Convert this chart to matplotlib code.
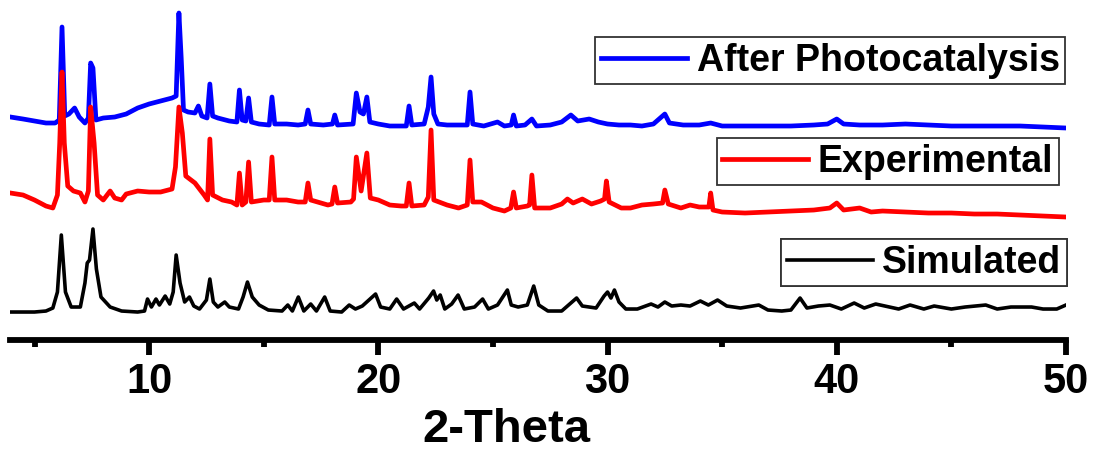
import matplotlib
matplotlib.use("Agg")
import matplotlib.pyplot as plt
from matplotlib.ticker import MultipleLocator

plt.rcParams['font.family'] = ['Liberation Sans', 'DejaVu Sans']
plt.rcParams['font.weight'] = 'bold'

# 2-theta and intensity (a.u.), each curve above its own baseline
blue_x = [3.95, 4.5, 5.0, 5.5, 5.9, 6.08, 6.2, 6.32, 6.5, 6.75, 6.95, 7.2, 7.35, 7.45, 7.55, 7.68,
          8.0, 8.5, 9.0, 9.5, 10.0, 10.5, 11.0, 11.18, 11.3, 11.4, 11.5, 11.7, 12.0, 12.15, 12.3,
          12.53, 12.65, 12.77, 13.0, 13.5, 13.83, 13.94, 14.06, 14.22, 14.34, 14.46, 14.8, 15.24,
          15.36, 15.48, 16.0, 16.5, 16.81, 16.93, 17.05, 17.6, 18.0, 18.1, 18.22, 18.9, 19.04,
          19.2, 19.35, 19.5, 19.63, 20.0, 20.5, 21.22, 21.34, 21.46, 22.0, 22.18, 22.3, 22.42,
          22.6, 23.0, 23.88, 24.0, 24.12, 24.6, 25.2, 25.5, 25.8, 25.9, 26.02, 26.4, 26.7, 26.9,
          27.5, 28.0, 28.4, 28.7, 29.2, 29.6, 30.0, 30.5, 31.0, 31.5, 32.0, 32.5, 32.7, 33.3,
          34.0, 34.5, 35.0, 36.0, 37.0, 38.0, 39.0, 39.6, 40.0, 40.3, 41.0, 42.0, 43.0, 44.0,
          45.0, 46.0, 47.0, 48.0, 49.0, 50.0]
blue_y = [11, 9, 7, 5, 5, 8, 101, 12, 14, 20, 11, 5, 10, 65, 60, 8,
          10, 11, 14, 20, 24, 27, 30, 32, 115, 70, 18, 16, 15, 22, 12,
          10, 44, 12, 10, 7, 6, 38, 8, 7, 30, 6, 4, 3,
          31, 4, 4, 3, 4, 18, 4, 3, 4, 13, 3, 4, 35,
          16, 14, 31, 6, 4, 2, 2, 22, 3, 4, 21, 51, 14,
          4, 3, 3, 36, 4, 2, 6, 2, 3, 13, 2, 3, 9, 2,
          3, 6, 13, 7, 9, 6, 4, 3, 3, 2, 4, 14, 5, 3,
          3, 5, 2, 2, 2, 2, 3, 4, 9, 4, 3, 3, 4, 3,
          2, 2, 2, 2, 1, 0]

red_x = [3.95, 4.5, 5.0, 5.5, 5.8, 6.0, 6.1, 6.2, 6.3, 6.45, 6.7, 7.0, 7.2, 7.35, 7.45, 7.6,
         7.75, 8.0, 8.3, 8.5, 8.8, 9.0, 9.5, 10.0, 10.5, 11.0, 11.15, 11.3, 11.45, 11.6, 12.0,
         12.4, 12.55, 12.65, 12.77, 13.2, 13.6, 13.83, 13.94, 14.06, 14.22, 14.34, 14.46, 15.0,
         15.24, 15.36, 15.48, 16.0, 16.5, 16.81, 16.93, 17.05, 17.8, 17.98, 18.1, 18.22, 18.8,
         18.92, 19.04, 19.25, 19.5, 19.65, 20.0, 20.5, 21.0, 21.22, 21.34, 21.46, 22.0, 22.18,
         22.3, 22.42, 23.0, 23.5, 23.88, 24.0, 24.12, 24.5, 25.0, 25.5, 25.78, 25.9, 26.02,
         26.5, 26.6, 26.7, 26.82, 27.5, 28.0, 28.25, 28.5, 28.9, 29.3, 29.7, 29.87, 29.95,
         30.07, 30.6, 31.0, 31.5, 32.0, 32.4, 32.5, 32.65, 33.2, 33.6, 34.0, 34.42, 34.5, 34.6,
         35.0, 36.0, 37.0, 38.0, 39.0, 39.7, 40.0, 40.3, 41.0, 41.5, 42.0, 43.0, 44.0, 45.0,
         46.0, 47.0, 48.0, 49.0, 50.0]
red_y = [24, 22, 17, 11, 9, 22, 74, 145, 74, 31, 26, 24, 15, 26, 110, 74,
         22, 17, 26, 19, 17, 23, 26, 25, 25, 28, 50, 110, 84, 41, 34,
         22, 17, 78, 22, 17, 15, 12, 44, 12, 15, 55, 15, 17,
         17, 60, 17, 17, 15, 15, 34, 17, 12, 13, 30, 14, 15,
         18, 60, 26, 64, 19, 17, 12, 11, 11, 34, 11, 12, 20,
         87, 17, 12, 9, 12, 57, 15, 15, 9, 6, 9, 25, 9,
         11, 12, 42, 9, 9, 13, 18, 14, 18, 13, 16, 18, 36,
         15, 9, 9, 12, 13, 14, 27, 13, 9, 12, 10, 10, 24, 7,
         5, 4, 5, 6, 7, 9, 14, 7, 9, 5, 6, 5, 4, 4,
         3, 3, 2, 1, 0]

black_x = [3.95, 5.0, 5.5, 5.8, 6.0, 6.17, 6.35, 6.6, 7.0, 7.2, 7.3, 7.4, 7.55, 7.7, 7.9, 8.3,
           8.8, 9.5, 9.8, 9.93, 10.1, 10.3, 10.45, 10.7, 10.9, 11.05, 11.18, 11.35, 11.55, 11.76,
           11.95, 12.2, 12.5, 12.65, 12.8, 13.0, 13.3, 13.5, 13.9, 14.1, 14.29, 14.5, 14.8, 15.2,
           15.8, 16.05, 16.25, 16.51, 16.75, 17.05, 17.3, 17.66, 17.9, 18.4, 18.73, 19.0, 19.3,
           19.88, 20.1, 20.5, 20.8, 21.1, 21.57, 21.8, 22.2, 22.41, 22.55, 22.7, 22.9, 23.2,
           23.48, 23.75, 24.2, 24.55, 24.8, 25.2, 25.63, 25.8, 26.1, 26.5, 26.78, 27.0, 27.4,
           28.0, 28.3, 28.65, 28.9, 29.5, 29.85, 30.0, 30.15, 30.3, 30.5, 30.8, 31.3, 31.9, 32.2,
           32.5, 32.8, 33.2, 33.6, 34.05, 34.4, 34.8, 35.2, 35.8, 36.6, 37.0, 37.6, 38.0, 38.4,
           38.7, 39.2, 39.7, 40.2, 40.76, 41.2, 41.7, 42.1, 42.7, 43.2, 43.8, 44.25, 45.0, 45.6,
           46.5, 47.0, 47.6, 48.5, 49.0, 49.6, 50.0]
black_y = [0, 0, 1, 4, 20, 77, 20, 5, 5, 29, 49, 52, 83, 43, 15, 5,
           1, 0, 1, 13, 5, 13, 7, 16, 8, 20, 57, 29, 10, 15,
           6, 3, 12, 33, 10, 5, 10, 5, 3, 15, 30, 15, 7, 2,
           1, 7, 1, 15, 1, 8, 1, 15, 1, 0, 7, 3, 6,
           18, 5, 3, 13, 3, 9, 3, 14, 21, 12, 17, 3, 8,
           17, 3, 5, 13, 3, 7, 22, 7, 5, 7, 26, 7, 1,
           1, 7, 14, 6, 4, 16, 20, 14, 22, 10, 3, 3, 8, 5,
           10, 6, 7, 6, 11, 7, 12, 6, 4, 7, 2, 1, 2, 14,
           4, 6, 7, 3, 9, 4, 8, 6, 3, 7, 3, 6, 3, 5,
           7, 3, 5, 5, 3, 3, 7]

labels = ['After Photocatalysis', 'Experimental', 'Simulated']
offsets = [212, 123, 28]

fig = plt.figure(figsize=(10.97, 4.53), dpi=100)
ax = fig.add_axes([0.0091, 0.2494, 0.9626, 0.7506])

lb, = ax.plot(blue_x, [v + offsets[0] for v in blue_y], color='#0000ff', lw=3.4,
              solid_joinstyle='round')
lr, = ax.plot(red_x, [v + offsets[1] for v in red_y], color='#ff0000', lw=3.4,
              solid_joinstyle='round')
lk, = ax.plot(black_x, [v + offsets[2] for v in black_y], color='black', lw=2.6,
              solid_joinstyle='round')

ax.set_xlim(3.93, 50)
ax.set_ylim(0, 340)

for s in ['left', 'right', 'top']:
    ax.spines[s].set_visible(False)
ax.spines['bottom'].set_linewidth(4.2)
ax.set_yticks([])
ax.xaxis.set_major_locator(MultipleLocator(10))
ax.xaxis.set_minor_locator(MultipleLocator(5))
ax.tick_params(axis='x', which='major', length=10.5, width=4.2, labelsize=30, pad=5)
ax.tick_params(axis='x', which='minor', length=5, width=4.2)
for t in ax.get_xticklabels():
    t.set_fontweight('bold')
ax.set_xlabel('2-Theta', fontsize=34, fontweight='bold')
ax.xaxis.label.set_va('baseline')
ax.xaxis.set_label_coords(0.4697, -0.3)

# three separate legend boxes, one next to each curve
font = {'family': 'Liberation Sans', 'weight': 'bold', 'size': 27}
anchors = [(0.971, 0.918), (0.9653, 0.695), (0.9727, 0.472)]
for h, lab, anc in zip([lb, lr, lk], labels, anchors):
    leg = ax.legend(handles=[h], labels=[lab], loc='upper right', bbox_to_anchor=anc,
                    bbox_transform=fig.transFigure, prop=font, frameon=True, fancybox=False,
                    edgecolor='#333333', framealpha=1, handlelength=2.3, handletextpad=0.25,
                    borderpad=0.15, borderaxespad=0)
    leg.get_frame().set_linewidth(1.3)
    ax.add_artist(leg)

fig.savefig('out.png', dpi=100)
